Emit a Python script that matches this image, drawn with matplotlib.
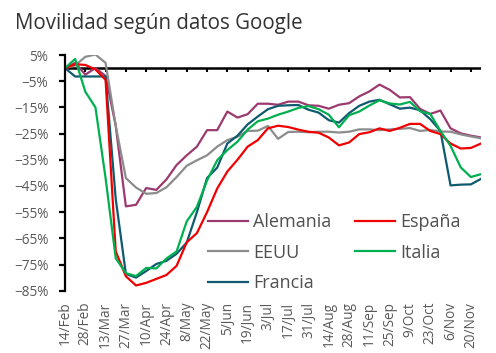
import matplotlib
matplotlib.use("Agg")
import matplotlib.pyplot as plt
import numpy as np
import pandas as pd

plt.rcParams['font.family'] = ['Open Sans', 'DejaVu Sans']

# ---------------- data ----------------
dates = pd.date_range("2020-02-14", periods=42, freq="7D")

alemania = [0, 2, -2.5, 0, -3, -22, -52.8, -52.2, -45.8, -46.5, -42.5, -37, -33.3, -30,
            -23.7, -23.7, -16.6, -18.9, -17.6, -13.6, -13.6, -14, -12.8, -12.8, -14.2,
            -14.4, -15.5, -14, -13.4, -10.8, -8.9, -6.3, -8.3, -11.2, -11.1, -15.6,
            -17.5, -16.2, -23, -24.9, -25.8, -26.5]
espana = [0, 1.5, 1.2, -0.5, -4.5, -70, -79.5, -83, -82, -80.5, -79, -75.5, -66.5, -63,
          -55, -46, -39.5, -35, -30, -27.5, -23, -22, -22.5, -23.5, -24.3, -24.7, -26.5,
          -29.5, -28.4, -25.2, -24.5, -23, -24, -22.8, -21.3, -21.3, -24, -25.2, -28.8,
          -30.7, -30.5, -28.8]
eeuu = [0, 1, 4.3, 5.2, 2, -22, -42, -45.6, -48, -47.7, -45.5, -41.6, -37.3, -35.2,
        -33.3, -30, -27.5, -26.2, -24, -23.9, -22.1, -27, -24.4, -24.3, -24.5, -24.3,
        -24.3, -24.6, -24.3, -23.4, -23.4, -23.7, -23.4, -23.2, -22.9, -24, -23.6,
        -24.2, -24.3, -25.3, -26.1, -26.8]
italia = [0, 3.5, -9, -15, -42, -72.6, -78.3, -79.4, -76.3, -76.5, -72.7, -70, -58.5, -53,
          -42.9, -35.2, -31.3, -28.1, -23.5, -20.3, -19.3, -17.8, -16.6, -15.2, -14.5,
          -15.7, -17.8, -22.6, -18, -16.6, -14.3, -12.3, -13.5, -13.9, -12.9, -16.5,
          -17.5, -24, -29.7, -37.9, -41.6, -40.5]
francia = [0, -3.2, -3.2, -3.2, -3.2, -50, -78.6, -80, -77.5, -74.8, -73.6, -70.9, -66.6,
           -55, -42, -38, -28.8, -25.8, -21.5, -18.5, -15.7, -14.4, -14.2, -14.1, -15.9,
           -17, -19.9, -20.8, -17.2, -14.4, -12.8, -12.1, -13.8, -15.5, -15.1, -16.1,
           -19.5, -24, -44.8, -44.5, -44.4, -42.3]

tick_dates = pd.date_range("2020-02-14", periods=21, freq="14D")
tick_labels = ["14/Feb", "28/Feb", "13/Mar", "27/Mar", "10/Apr", "24/Apr", "8/May",
               "22/May", "5/Jun", "19/Jun", "3/Jul", "17/Jul", "31/Jul", "14/Aug",
               "28/Aug", "11/Sep", "25/Sep", "9/Oct", "23/Oct", "6/Nov", "20/Nov"]
y_ticks = [5, -5, -15, -25, -35, -45, -55, -65, -75, -85]
y_labels = ["5%", "\u22125%", "\u221215%", "\u221225%", "\u221235%", "\u221245%",
            "\u221255%", "\u221265%", "\u221275%", "\u221285%"]

series = [
    ("Alemania", alemania, "#9B3A6E"),
    ("EEUU", eeuu, "#8C8C8C"),
    ("Francia", francia, "#0F5A6E"),
    ("España", espana, "#F00000"),
    ("Italia", italia, "#00B050"),
]

# ---------------- figure ----------------
fig = plt.figure(figsize=(4.96, 3.53), dpi=100)
ax = fig.add_axes([65/496, 1-290.7/353, (481-65)/496, (290.7-55)/353])

for name, vals, col in series:
    ax.plot(dates, vals, color=col, lw=1.6, label=name, solid_joinstyle='round')

ax.set_xlim(dates[0], dates[-1])
ax.set_ylim(-85, 5)

ax.set_yticks(y_ticks)
ax.set_yticklabels(y_labels)
ax.set_xticks(tick_dates)
ax.set_xticklabels(tick_labels, rotation=90)

for s in ["top", "right", "bottom"]:
    ax.spines[s].set_visible(False)
ax.spines["left"].set_linewidth(1.6)
ax.spines["left"].set_color("black")

ax.tick_params(axis="y", direction="out", length=4, width=1.6, colors="black",
               labelcolor="#595959", labelsize=9.8, pad=8)
ax.tick_params(axis="x", length=0, labelcolor="#595959", labelsize=9.8, pad=8)

# zero line with its tick marks
ax.axhline(0, color="black", lw=1.8, zorder=1)
ax.vlines(tick_dates, -1.6, 0, color="black", lw=1.5, zorder=1)

handles, labels = ax.get_legend_handles_labels()
leg = ax.legend(handles, labels, ncol=2, loc="upper left",
                bbox_to_anchor=(208/496, 1-213/353), bbox_transform=fig.transFigure,
                frameon=False, fontsize=13, handlelength=2.2, handletextpad=0.3,
                columnspacing=1.3, labelspacing=0.70, borderpad=0, borderaxespad=0)
for t in leg.get_texts():
    t.set_color("#505050")

fig.text(15/496, 1-28.5/353, "Movilidad según datos Google", fontsize=14.8,
         color="#333333", ha="left", va="baseline")

fig.savefig("out.png", dpi=100)
